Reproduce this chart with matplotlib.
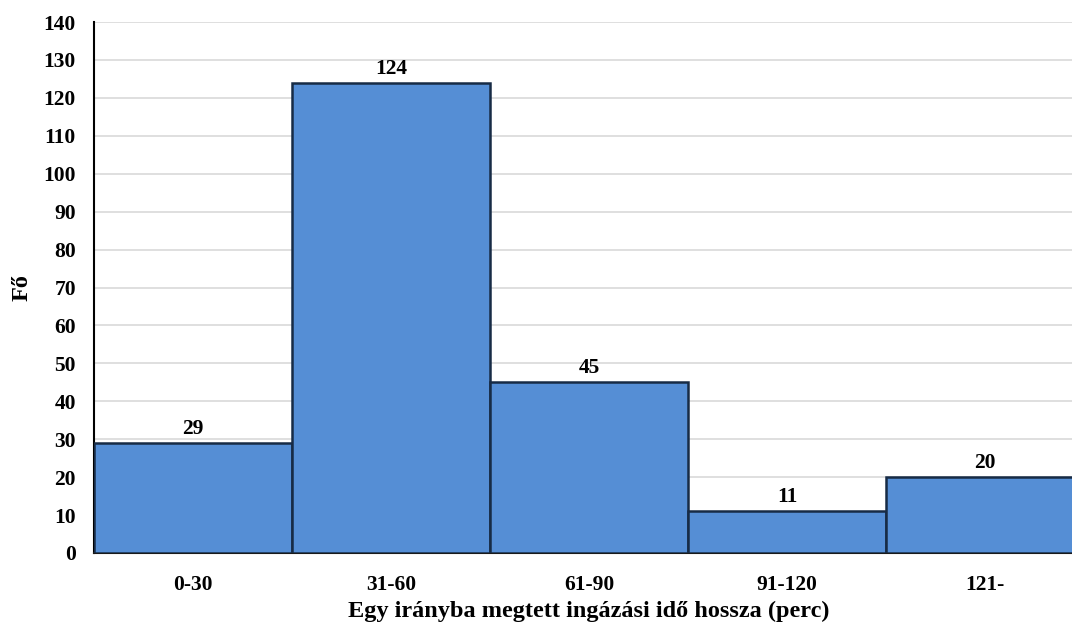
import numpy as np
import matplotlib.pyplot as plt

# Ingázási idő kategóriák és létszámok
categories = ["0-30", "31-60", "61-90", "91-120", "121-"]
counts = [29, 124, 45, 11, 20]

plt.rcParams['font.family'] = ['Liberation Serif', 'DejaVu Serif']
plt.rcParams['font.weight'] = 'bold'

fig = plt.figure(figsize=(10.72, 6.26), dpi=100)
# a jobb szél kilóg a képből, mint az eredetin
ax = fig.add_axes([94 / 1072, 1 - 553 / 626, 990 / 1072, (553 - 22) / 626])

x = np.arange(len(categories))
bars = ax.bar(x, counts, width=1.0, color="#558ED5", edgecolor="#172B45", linewidth=1.8, zorder=3)

for rect, val in zip(bars, counts):
    ax.annotate(str(val), (rect.get_x() + rect.get_width() / 2, rect.get_height()),
                xytext=(0, 3), textcoords="offset points", ha="center", va="bottom",
                fontsize=15.5, fontweight="bold")

ax.set_xlim(-0.5, 4.5)
ax.set_ylim(0, 140)
ax.set_yticks(np.arange(0, 141, 10))
ax.set_xticks(x)
ax.set_xticklabels(categories)
ax.tick_params(axis="both", length=0, labelsize=15.5)
ax.tick_params(axis="y", pad=13)
ax.tick_params(axis="x", pad=16)

ax.yaxis.grid(True, color="#D9D9D9", linewidth=1.2, zorder=0)
ax.set_axisbelow(True)
for side in ["top", "right"]:
    ax.spines[side].set_visible(False)
ax.spines["left"].set_color("#000000")
ax.spines["left"].set_linewidth(1.5)
ax.spines["bottom"].set_color("#1a1a1a")
ax.spines["bottom"].set_linewidth(1.5)

ax.set_ylabel("Fő", fontsize=17.5, fontweight="bold", labelpad=8)
ax.set_xlabel("Egy irányba megtett ingázási idő hossza (perc)", fontsize=17.5, fontweight="bold", labelpad=4)

fig.savefig("out.png", dpi=100)
